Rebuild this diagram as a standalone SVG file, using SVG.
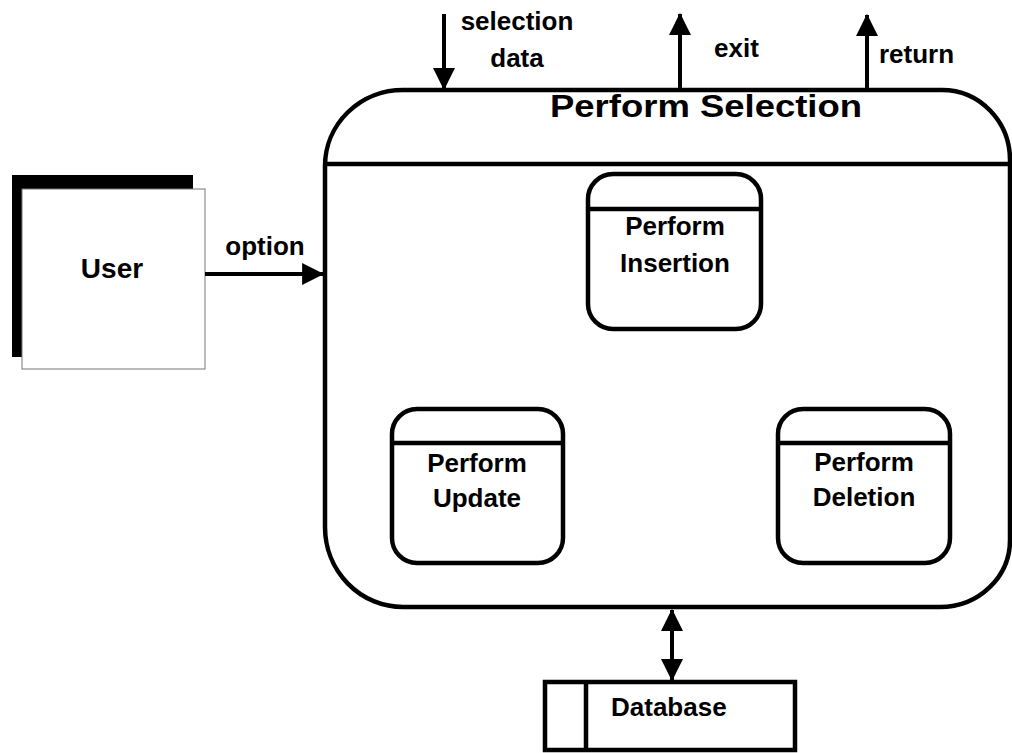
<svg xmlns="http://www.w3.org/2000/svg" width="1012" height="753" viewBox="0 0 1012 753">
<style>
text{font-family:"Liberation Sans",Arial,sans-serif;font-weight:bold;fill:#000}
.lbl{font-size:26px}
.mid{text-anchor:middle}
.box{fill:#fff;stroke:#000;stroke-width:4.5}
.line{stroke:#000;stroke-width:4.5;fill:none}
.arr{stroke:#000;stroke-width:4;fill:none}
</style>
<defs>
<marker id="ah" markerUnits="userSpaceOnUse" markerWidth="22" markerHeight="22" viewBox="0 0 20 20" refX="19" refY="10" orient="auto-start-reverse">
<path d="M0,0 L20,10 L0,20 Z" fill="#000"/>
</marker>
</defs>
<rect width="1012" height="753" fill="#fff"/>
<g id="user">
<rect x="12" y="175" width="181" height="182" fill="#000"/>
<rect x="22" y="189" width="183" height="180" fill="#fff" stroke="#777" stroke-width="1"/>
<text x="112" y="278" class="mid" font-size="28">User</text>
</g>
<g id="perform-selection">
<path class="box" stroke-width="5" d="M403,90 H942 A68 70 0 0 1 1010 160 V540 A70 67 0 0 1 940 607 H403 A78 80 0 0 1 325 527 V166 A78 76 0 0 1 403 90 Z"/>
<line class="line" x1="325" y1="164" x2="1012" y2="164"/>
<text x="550" y="117" font-size="32" textLength="312" lengthAdjust="spacingAndGlyphs">Perform Selection</text>
</g>
<g id="perform-insertion">
<rect class="box" x="588" y="174" width="173" height="155" rx="25"/>
<line class="line" x1="588" y1="209" x2="761" y2="209"/>
<text x="675" y="235" class="lbl mid">Perform</text>
<text x="675" y="272" class="lbl mid">Insertion</text>
</g>
<g id="perform-update">
<rect class="box" x="392" y="409" width="171" height="154" rx="25"/>
<line class="line" x1="392" y1="443" x2="563" y2="443"/>
<text x="477" y="472" class="lbl mid">Perform</text>
<text x="477" y="507" class="lbl mid">Update</text>
</g>
<g id="perform-deletion">
<rect class="box" x="778" y="409" width="172" height="154" rx="25"/>
<line class="line" x1="778" y1="443" x2="950" y2="443"/>
<text x="864" y="471" class="lbl mid">Perform</text>
<text x="864" y="506" class="lbl mid">Deletion</text>
</g>
<g id="database">
<rect class="box" x="545" y="682" width="250" height="68"/>
<line class="line" x1="586" y1="682" x2="586" y2="750"/>
<text x="611" y="716" class="lbl">Database</text>
</g>
<g id="connectors">
<line class="arr" x1="444" y1="14" x2="444" y2="89" marker-end="url(#ah)"/>
<line class="arr" x1="680" y1="90" x2="680" y2="14" marker-end="url(#ah)"/>
<line class="arr" x1="867" y1="90" x2="867" y2="15" marker-end="url(#ah)"/>
<line class="arr" x1="205" y1="274" x2="323" y2="274" marker-end="url(#ah)"/>
<line class="arr" x1="672" y1="610" x2="672" y2="680" marker-start="url(#ah)" marker-end="url(#ah)"/>
<text x="517" y="30" class="lbl mid">selection</text>
<text x="517" y="67" class="lbl mid">data</text>
<text x="714" y="57" class="lbl">exit</text>
<text x="879" y="63" class="lbl">return</text>
<text x="265" y="255" class="lbl mid">option</text>
</g>
</svg>
